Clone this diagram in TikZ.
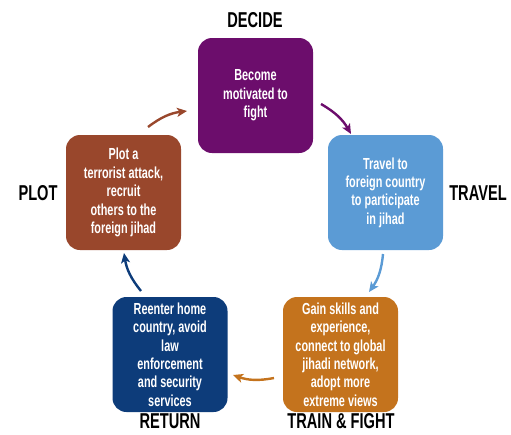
\documentclass[tikz,border=0pt]{standalone}
\usepackage{fontspec}
\setmainfont{Liberation Sans}[FakeStretch=0.68]
\usepackage{tikz}
\usetikzlibrary{arrows.meta}

\definecolor{decidecol}{HTML}{6C0D6C}
\definecolor{travelcol}{HTML}{5B9BD5}
\definecolor{traincol}{HTML}{C4731D}
\definecolor{returncol}{HTML}{0D3C7A}
\definecolor{plotcol}{HTML}{99472C}

\begin{document}
\begin{tikzpicture}[x=1pt,y=-1pt,
    box/.style={rectangle,rounded corners=14pt,minimum width=115pt,minimum height=115pt,
      inner sep=0pt,text=white,align=center,font=\bfseries\fontsize{16}{18.4}\selectfont},
    stage/.style={font=\bfseries\fontsize{21.5}{23}\selectfont,inner sep=1pt},
    flow/.style={line width=2.4pt,-{Stealth[length=10pt,width=9pt,inset=2.5pt]}}]

    \useasboundingbox (0,0) rectangle (511,434);

    \node[box,fill=decidecol]  (decide) at (255.5, 95.5)  {Become\\motivated to\\fight};
    \node[box,fill=travelcol]  (travel) at (385.5, 192.5) {Travel to\\foreign country\\to participate\\in jihad};
    \node[box,fill=traincol]   (train)  at (340.5, 354.5) {Gain skills and\\experience,\\connect to global\\jihadi network,\\adopt more\\extreme views};
    \node[box,fill=returncol]  (return) at (170, 354.5)   {Reenter home\\country, avoid\\law\\enforcement\\and security\\services};
    \node[box,fill=plotcol]    (plot)   at (123.5, 192.5) {Plot a\\terrorist attack,\\recruit\\others to the\\foreign jihad};

    \node[stage] (decidelbl) at (255, 20)  {DECIDE};
    \node[stage] (travellbl) at (478, 193) {TRAVEL};
    \node[stage] (trainlbl)  at (341, 421) {TRAIN \& FIGHT};
    \node[stage] (returnlbl) at (170, 421) {RETURN};
    \node[stage] (plotlbl)   at (38, 193)  {PLOT};

    \coordinate (p1) at (148, 127);
    \coordinate (d1) at (187, 111);
    \coordinate (d2) at (321, 104);
    \coordinate (t1) at (351, 134);
    \coordinate (t2) at (383, 254);
    \coordinate (f1) at (369, 292);
    \coordinate (f2) at (274, 378);
    \coordinate (r1) at (233, 375);
    \coordinate (r2) at (141, 291);
    \coordinate (p2) at (124, 253);

    \draw[flow,plotcol]   (p1) to[bend left=15] (d1);
    \draw[flow,decidecol] (d2) to[bend left=15] (t1);
    \draw[flow,travelcol] (t2) to[bend left=15] (f1);
    \draw[flow,traincol]  (f2) to[bend left=15] (r1);
    \draw[flow,returncol] (r2) to[bend left=15] (p2);
\end{tikzpicture}
\end{document}
